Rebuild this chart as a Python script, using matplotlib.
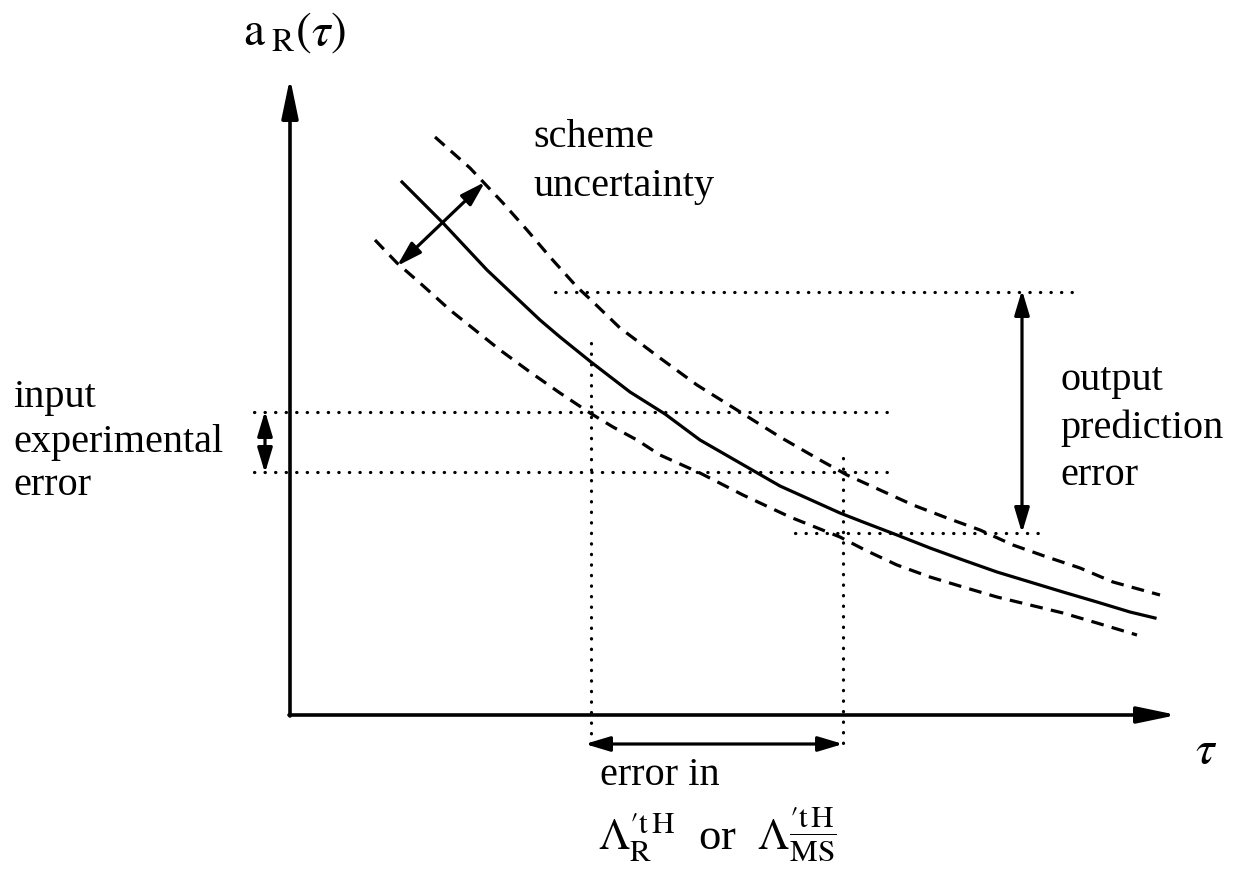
import matplotlib
matplotlib.use("Agg")
import matplotlib.pyplot as plt

plt.rcParams['font.family'] = ['Liberation Serif', 'DejaVu Serif']
plt.rcParams['mathtext.fontset'] = 'stix'

# curve points (pixel coords, y downwards)
mid_x = [402, 443, 487, 540, 560, 591, 630, 665, 700, 740, 780, 840, 863, 897, 930, 963, 997, 1030, 1063, 1097, 1130, 1155]
mid_y = [182, 223, 270, 320, 337, 362, 392, 414, 440, 463, 486, 513, 522, 535, 548, 560, 572, 582, 592, 602, 612, 618]

up_x = [435, 470, 503, 527, 550, 577, 590, 620, 660, 697, 737, 780, 820, 847, 880, 913, 947, 980, 1013, 1047, 1080, 1113, 1160]
up_y = [137, 168, 203, 230, 257, 287, 299, 328, 358, 385, 410, 437, 460, 475, 490, 505, 518, 530, 545, 557, 568, 582, 595]

low_x = [375, 397, 420, 450, 500, 530, 560, 590, 613, 637, 660, 700, 743, 790, 840, 865, 897, 930, 963, 997, 1030, 1063, 1097, 1137]
low_y = [240, 263, 283, 310, 350, 372, 393, 413, 427, 440, 455, 473, 495, 517, 537, 550, 565, 577, 587, 597, 605, 613, 623, 635]

# dotted guide lines: (x0, x1, y0, y1)
guides = [
    (591, 591, 343, 752),
    (843, 843, 458, 752),
    (555, 1075, 292, 292),
    (254, 890, 412, 412),
    (254, 890, 472, 472),
    (795, 1045, 533, 533),
]

# double arrows: (x0, y0, x1, y1)
arrows = [
    (397, 266, 485, 182),
    (1022, 290, 1022, 533),
    (265, 411, 265, 473),
    (585, 744, 843, 744),
]

# text labels: lines, left x, baselines
input_lines = ['input', 'experimental', 'error']
input_base = [407, 452, 495]
output_lines = ['output', 'prediction', 'error']
output_base = [390, 438, 485]
scheme_lines = ['scheme', 'uncertainty']
scheme_base = [147, 196]

fig = plt.figure(figsize=(12.45, 8.69), dpi=100)
ax = fig.add_axes([0, 0, 1, 1])
ax.set_xlim(0, 1245)
ax.set_ylim(869, 0)
ax.axis('off')

# axes with arrow heads
ax.annotate('', xy=(290, 78), xytext=(290, 716),
            arrowprops=dict(arrowstyle='-|>,head_length=2.4,head_width=0.5', color='black', lw=2.6,
                            shrinkA=0, shrinkB=0))
ax.annotate('', xy=(1177, 715), xytext=(289, 715),
            arrowprops=dict(arrowstyle='-|>,head_length=2.4,head_width=0.5', color='black', lw=2.6,
                            shrinkA=0, shrinkB=0))

ax.plot(mid_x, mid_y, color='black', lw=2.3, solid_joinstyle='round')
ax.plot(up_x, up_y, color='black', lw=2.3, linestyle=(0, (4, 2.6)))
ax.plot(low_x, low_y, color='black', lw=2.3, linestyle=(0, (4, 2.6)))

for x0, x1, y0, y1 in guides:
    ax.plot([x0, x1], [y0, y1], color='black', lw=2.3, linestyle=(0, (0.1, 3.2)),
            dash_capstyle='round')

for x0, y0, x1, y1 in arrows:
    ax.annotate('', xy=(x1, y1), xytext=(x0, y0),
                arrowprops=dict(arrowstyle='<|-|>,head_length=1.5,head_width=0.45',
                                color='black', lw=2.3, shrinkA=0, shrinkB=0))

fs = 29
for lines, base, x in [(input_lines, input_base, 13),
                       (output_lines, output_base, 1060),
                       (scheme_lines, scheme_base, 533)]:
    for s, y in zip(lines, base):
        ax.text(x, y, s, fontsize=fs, va='baseline', ha='left')

ax.text(243, 45, r'$\mathrm{a}_{\;\mathrm{R}}(\tau)$', fontsize=34, va='baseline', ha='left')
ax.text(1195, 763, r'$\tau$', fontsize=34, va='baseline', ha='left')
ax.text(600, 785, 'error in', fontsize=fs, va='baseline', ha='left')
ax.text(598, 850, r"$\Lambda_{\mathrm{R}}^{\prime\mathrm{t\,H}}$  or  $\Lambda_{\overline{\mathrm{MS}}}^{\prime\mathrm{t\,H}}$",
        fontsize=32, va='baseline', ha='left')

fig.savefig('out.png', dpi=100)
